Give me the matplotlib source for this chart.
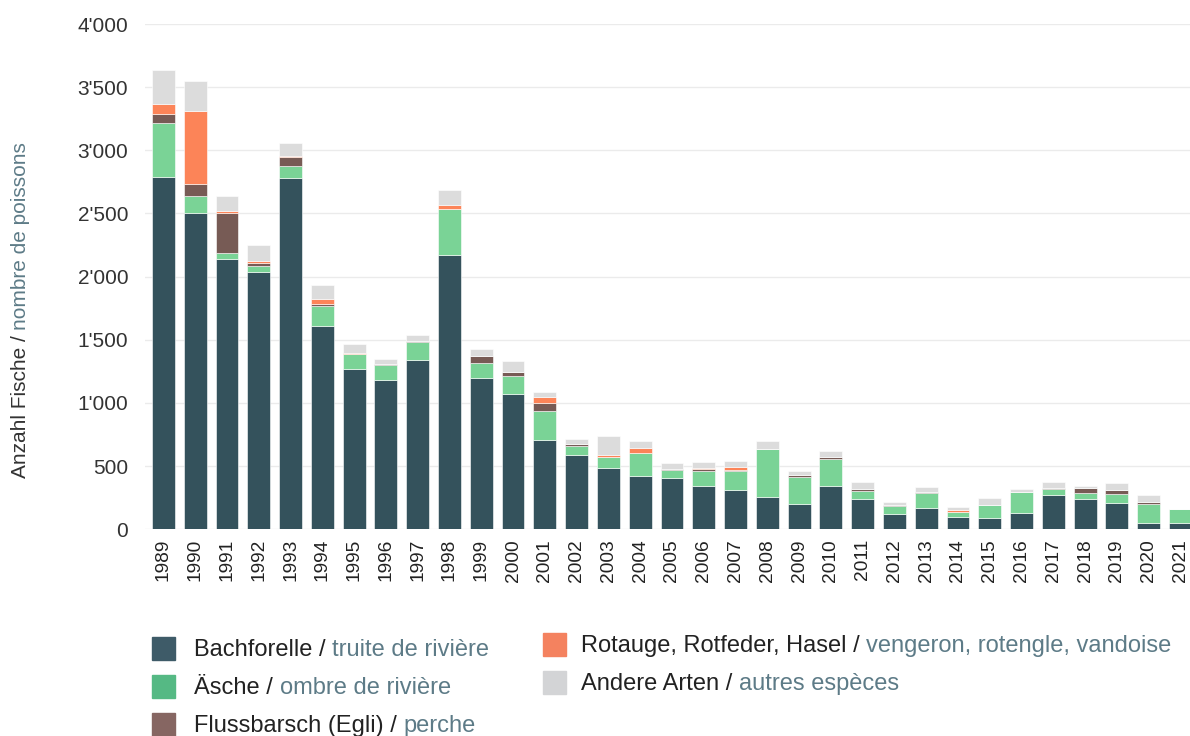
import matplotlib
matplotlib.use("Agg")
import matplotlib.pyplot as plt
from matplotlib.patches import Rectangle
import numpy as np

years = [str(y) for y in range(1989, 2022)]
bachforelle = [2790, 2500, 2140, 2037, 2783, 1610, 1268, 1178, 1339, 2175, 1194, 1072, 706,
               588, 485, 424, 403, 340, 308, 253, 198, 345, 242, 123, 168, 97, 89, 131,
               274, 242, 210, 52, 52]
aesche = [427, 142, 47, 48, 92, 161, 116, 124, 140, 358, 123, 140, 227,
          71, 89, 182, 68, 123, 155, 382, 218, 211, 58, 61, 117, 37, 101, 164,
          47, 45, 69, 148, 108]
flussbarsch = [72, 92, 320, 23, 71, 16, 4, 5, 12, 5, 52, 32, 66,
               16, 0, 0, 6, 12, 10, 3, 16, 18, 21, 11, 8, 5, 0, 0,
               8, 40, 29, 16, 0]
rotauge = [79, 580, 15, 14, 8, 34, 8, 0, 0, 32, 5, 0, 50,
           0, 16, 35, 2, 8, 20, 0, 0, 0, 0, 0, 0, 16, 0, 0,
           0, 0, 0, 0, 0]
andere = [267, 232, 114, 129, 103, 116, 74, 42, 45, 119, 55, 87, 37,
          37, 148, 57, 48, 47, 44, 58, 31, 45, 53, 23, 44, 19, 60, 24,
          45, 13, 61, 53, 0]

series = [bachforelle, aesche, flussbarsch, rotauge, andere]
bar_colors = ["#34525c", "#7ad396", "#775b55", "#fc8458", "#dcdcdc"]
legend_colors = ["#3e5b68", "#55b984", "#866662", "#f4825f", "#d3d4d6"]
labels_de = ["Bachforelle / ", "Äsche / ", "Flussbarsch (Egli) / ",
             "Rotauge, Rotfeder, Hasel / ", "Andere Arten / "]
labels_fr = ["truite de rivière", "ombre de rivière", "perche",
             "vengeron, rotengle, vandoise", "autres espèces"]
yticks = [0, 500, 1000, 1500, 2000, 2500, 3000, 3500, 4000]
ytick_labels = ["0", "500", "1'000", "1'500", "2'000", "2'500", "3'000", "3'500", "4'000"]

plt.rcParams['font.family'] = ['Liberation Sans', 'DejaVu Sans']
W, H = 1190, 736
fig = plt.figure(figsize=(W / 100, H / 100), dpi=100)
ax = fig.add_axes([145 / W, 1 - 529.3 / H, 1 - 145 / W, (529.3 - 24) / H])

x = np.arange(len(years))
bottom = np.zeros(len(years))
for vals, col in zip(series, bar_colors):
    v = np.array(vals, dtype=float)
    ax.bar(x, v, bottom=bottom, width=0.72, color=col, edgecolor="white",
           linewidth=0.4, zorder=3)
    bottom += v

ax.set_xlim(-0.58, 32.3)
ax.set_ylim(0, 4000)
ax.set_yticks(yticks)
ax.set_yticklabels(ytick_labels)
ax.set_xticks(x)
ax.set_xticklabels(years, rotation=90, va="top", ha="center")
ax.tick_params(axis="y", length=0, pad=12, labelsize=15, labelcolor="#333333")
ax.tick_params(axis="x", length=0, pad=7, labelsize=13.8, labelcolor="#222222")
ax.grid(axis="y", color="#ebebeb", linewidth=1, zorder=0)
ax.set_axisbelow(True)
for s in ax.spines.values():
    s.set_visible(False)

dark = "#222222"
teal = "#5d7b87"

fig.canvas.draw()
renderer = fig.canvas.get_renderer()

# y-axis label (two colours)
t1 = fig.text(20 / W, 1 - 478 / H, "Anzahl Fische / ", rotation=90, rotation_mode="anchor",
              ha="left", va="center", fontsize=15, color="#333333")
ext = t1.get_window_extent(renderer)
fig.text(20 / W, (ext.y1) / H, "nombre de poissons", rotation=90, rotation_mode="anchor",
         ha="left", va="center", fontsize=15, color=teal)

# legend
positions = [(152, 637), (152, 675), (152, 713), (543, 633), (543, 671)]
text_dx = [42, 42, 42, 38, 38]
for (px, py), dx, c, de, fr in zip(positions, text_dx, legend_colors, labels_de, labels_fr):
    fig.patches.append(Rectangle((px / W, 1 - (py + 23) / H), 23 / W, 23 / H,
                                 transform=fig.transFigure, color=c, figure=fig))
    ty = 1 - (py + 13) / H
    ta = fig.text((px + dx) / W, ty, de, ha="left", va="center", fontsize=17, color=dark)
    e = ta.get_window_extent(renderer)
    fig.text(e.x1 / W, ty, fr, ha="left", va="center", fontsize=17, color=teal)

fig.savefig("out.png", dpi=100)
